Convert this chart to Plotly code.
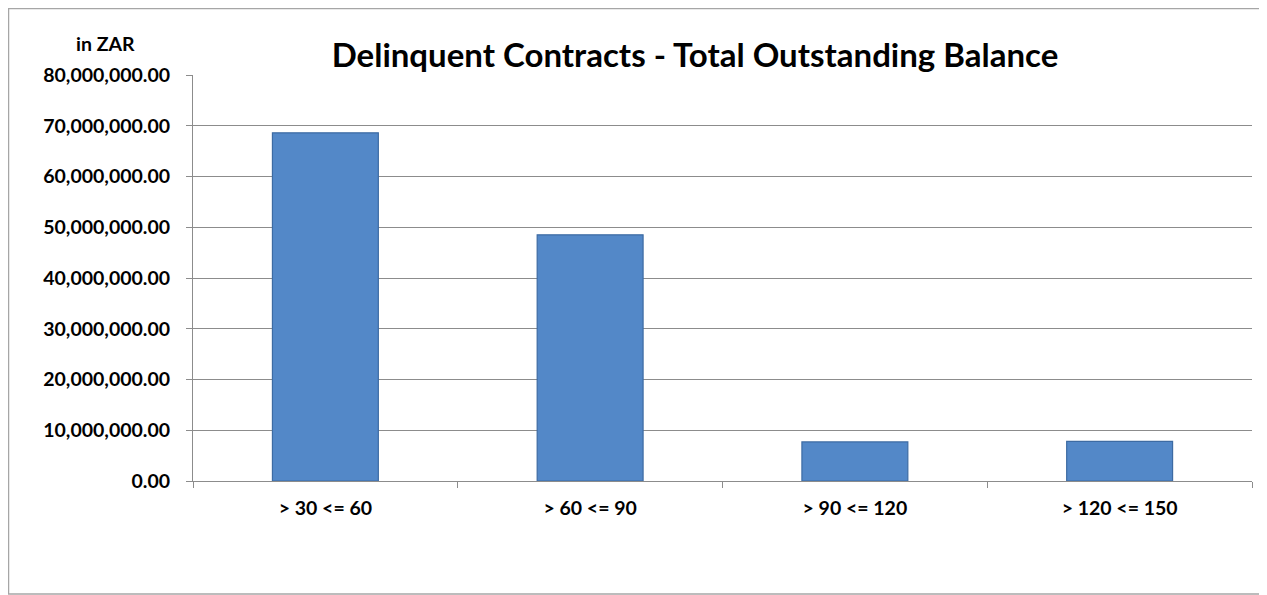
import plotly.graph_objects as go

categories = ["> 30 <= 60", "> 60 <= 90", "> 90 <= 120", "> 120 <= 150"]
balances = [68600000, 48500000, 7700000, 7800000]

# page has an 8px body margin; figure is sized/positioned to compensate
OFF = 8
W, H = 1267 - OFF, 595 - OFF
ml, mr, mt, mb = 193 - OFF, 15, 75 - OFF, 114
pw, ph = W - ml - mr, H - mt - mb

def px_to_paper_x(px):
    return (px - OFF - ml) / pw

def px_to_paper_y(py):
    return (H - mb - (py - OFF)) / ph

FONT = "Lato"
tick_font = dict(size=19.5, family=FONT, color="black", weight="bold")

fig = go.Figure()
fig.add_trace(go.Bar(
    x=categories, y=balances, width=0.4,
    marker=dict(color="#5388c8", line=dict(color="#3d6ba3", width=1.2)),
))

fig.update_layout(
    width=W, height=H,
    margin=dict(l=ml, r=mr, t=mt, b=mb),
    paper_bgcolor="white", plot_bgcolor="white",
    showlegend=False,
    font=dict(family=FONT, color="black"),
    title=dict(text="<b>Delinquent Contracts - Total Outstanding Balance</b>",
               x=(695 - OFF) / W, xanchor="center", y=1 - (55 - OFF) / H, yanchor="middle",
               font=dict(size=33, family=FONT, color="black")),
    xaxis=dict(
        type="category", showline=True, linecolor="#8c8c8c", linewidth=1,
        ticks="outside", ticklen=6, tickcolor="#8c8c8c", tickson="boundaries",
        tickfont=tick_font, ticklabelstandoff=10,
        showgrid=False, zeroline=False,
    ),
    yaxis=dict(
        range=[0, 80000000], dtick=10000000, tickformat=",.2f",
        showline=True, linecolor="#8c8c8c", linewidth=1,
        ticks="outside", ticklen=6, tickcolor="#8c8c8c",
        showgrid=True, gridcolor="#8c8c8c", gridwidth=1, zeroline=False,
        tickfont=tick_font, ticklabelstandoff=12,
    ),
    annotations=[dict(
        text="<b>in ZAR</b>", xref="paper", yref="paper",
        x=px_to_paper_x(105), y=px_to_paper_y(43), xanchor="center", yanchor="middle",
        showarrow=False, font=dict(size=19.5, family=FONT, color="black"),
    )],
    shapes=[dict(
        type="rect", xref="paper", yref="paper",
        x0=px_to_paper_x(8.5), x1=px_to_paper_x(1260),
        y0=px_to_paper_y(594), y1=px_to_paper_y(8.5),
        line=dict(color="#a6a6a6", width=1.5), fillcolor="rgba(0,0,0,0)", layer="below",
    )],
)

fig.write_html("out.html")
